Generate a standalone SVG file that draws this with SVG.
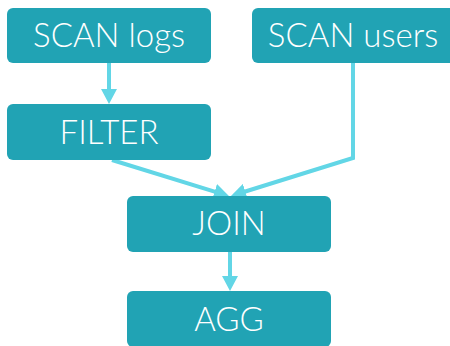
<svg xmlns="http://www.w3.org/2000/svg" width="450" height="346" viewBox="0 0 450 346">
<style>
.box{fill:#21A3B4}
.lbl{fill:#ffffff;font-family:Lato,"Open Sans","Liberation Sans",sans-serif;font-weight:300;font-size:33px;text-anchor:middle}
.edge{fill:none;stroke:#62D6E6;stroke-width:4}
</style>
<defs>
<marker id="arr" viewBox="0 0 15 16" refX="5" refY="8" markerWidth="15" markerHeight="16" markerUnits="userSpaceOnUse" orient="auto">
<path d="M0,0 L15,8 L0,16 z" fill="#62D6E6"/>
</marker>
</defs>
<g id="edges">
<path class="edge" d="M109,63 L109,94" marker-end="url(#arr)"/>
<path class="edge" d="M112,160 L219.4,193.1" marker-end="url(#arr)"/>
<path class="edge" d="M353,63 L353,158 L240.5,193" marker-end="url(#arr)"/>
<path class="edge" d="M230,252 L230,281" marker-end="url(#arr)"/>
</g>
<g id="scan_logs"><rect class="box" x="7" y="8" width="204" height="55" rx="6"/><text class="lbl" x="109" y="47">SCAN logs</text></g>
<g id="scan_users"><rect class="box" x="252" y="8" width="204" height="55" rx="6"/><text class="lbl" x="353" y="47">SCAN users</text></g>
<g id="filter"><rect class="box" x="7" y="104" width="204" height="56" rx="6"/><text class="lbl" x="109" y="144">FILTER</text></g>
<g id="join"><rect class="box" x="127" y="196" width="204" height="56" rx="6"/><text class="lbl" x="229" y="235">JOIN</text></g>
<g id="agg"><rect class="box" x="127" y="291" width="204" height="56" rx="6"/><text class="lbl" x="229" y="331">AGG</text></g>
</svg>
